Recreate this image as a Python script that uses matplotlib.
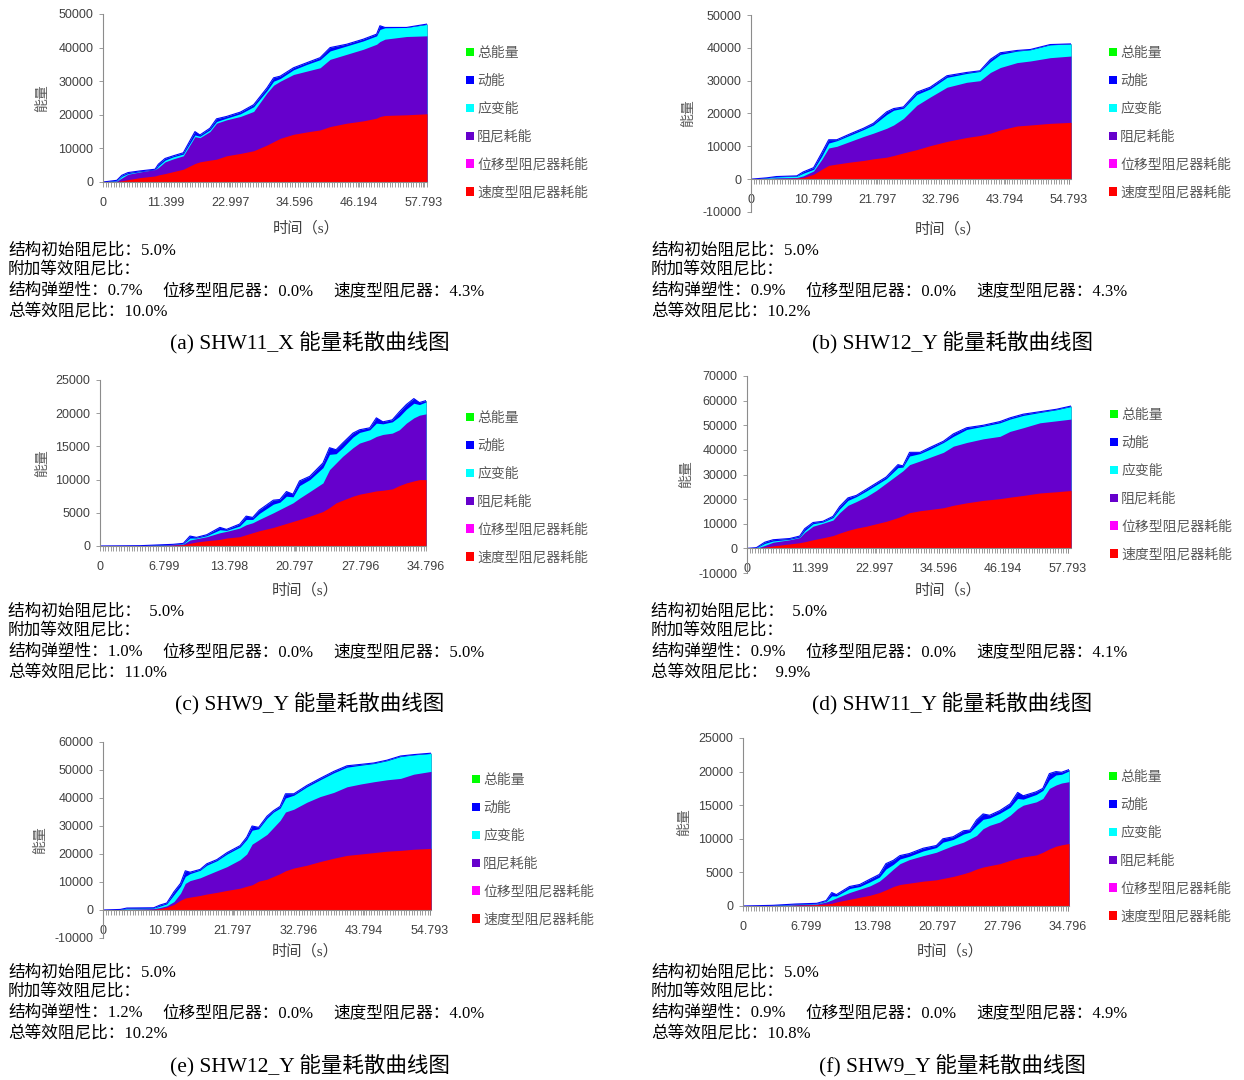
import matplotlib
matplotlib.use("Agg")
import matplotlib.pyplot as plt
from matplotlib.patches import Patch
from matplotlib.ticker import MultipleLocator

W, H = 1244, 1080
plt.rcParams['axes.unicode_minus'] = False

# ---------------- data ----------------
# (a) SHW11_X
t_a = [0, 2.5, 3.4, 4.5, 6.7, 9.4, 10.0, 11.2, 12.7, 14.5, 16.6, 17.5, 19.3, 20.5, 22.3, 24.8,
       27.2, 29.6, 30.8, 32.0, 34.4, 36.8, 39.2, 41.0, 44.0, 47.0, 49.4, 50.0, 50.9, 54.8, 58.5]
total_a = [0, 500, 2000, 2800, 3300, 3800, 5300, 7000, 7800, 8700, 15000, 14000, 16000, 18800, 19500, 20800,
           23000, 28000, 31000, 31500, 34000, 35500, 37000, 40000, 41000, 42500, 44000, 46500, 46000, 46000, 47000]
strain_a = [0, 400, 1700, 2500, 3100, 3600, 4800, 6500, 7500, 8300, 14000, 13600, 15500, 18000, 19000, 20300,
            22400, 27200, 30000, 30800, 33400, 35000, 36400, 39000, 40500, 42000, 43500, 45400, 45900, 46000, 46900]
damp_a = [0, 300, 1200, 2300, 3000, 3700, 4300, 6000, 6900, 7800, 13500, 13200, 15000, 17500, 18500, 19500,
          21000, 26500, 28800, 30000, 32000, 33000, 34000, 36500, 38000, 39500, 41000, 41800, 42500, 43300, 43500]
vel_a = [0, 100, 350, 700, 1300, 1800, 2100, 2500, 3100, 3800, 5500, 6000, 6500, 6800, 7800, 8500,
         9300, 11000, 12000, 13000, 14200, 14900, 15500, 16500, 17500, 18200, 19000, 19500, 19800, 20000, 20300]
ticks_a = [0, 11.399, 22.997, 34.596, 46.194, 57.793]

# (b) SHW12_Y
t_b = [0, 2.7, 4.4, 7.9, 9.0, 10.8, 12.2, 13.4, 14.8, 17.1, 19.4, 21.1, 23.4, 24.6, 26.3, 28.6,
       30.9, 33.8, 37.2, 39.5, 41.3, 43.0, 45.9, 48.2, 51.6, 55.2]
total_b = [0, 400, 800, 1000, 2200, 3500, 8000, 12000, 12000, 13800, 15500, 17000, 20500, 21500, 22000, 26500,
           28000, 31500, 32500, 33000, 36500, 38500, 39200, 39500, 41000, 41200]
strain_b = [0, 350, 700, 900, 1800, 3000, 7000, 11000, 11700, 13400, 15100, 16500, 19700, 21000, 21600, 25800,
            27500, 31000, 32200, 32800, 35800, 38000, 39000, 39400, 40900, 41200]
damp_b = [0, 200, 400, 500, 1000, 2500, 6000, 9500, 10000, 11500, 13000, 14000, 15500, 16500, 18500, 22500,
          25000, 28000, 29500, 30000, 32500, 34000, 35500, 36000, 37000, 37500]
vel_b = [0, 0, 100, 300, 500, 1500, 3000, 4200, 4600, 5200, 5700, 6200, 6700, 7200, 8000, 9000,
         10200, 11500, 12700, 13300, 14000, 15000, 16200, 16500, 17000, 17300]
ticks_b = [0, 10.799, 21.797, 32.796, 43.794, 54.793]

# (c) SHW9_Y
t_c = [0, 4.3, 7.8, 8.9, 9.6, 10.3, 11.4, 12.8, 13.5, 14.9, 15.6, 16.3, 17.0, 18.5, 19.2, 19.9, 20.6,
       21.3, 22.4, 23.8, 24.5, 25.2, 25.9, 27.0, 27.7, 28.8, 29.5, 30.2, 31.2, 31.95, 32.7, 33.5, 34.1, 34.8]
total_c = [0, 50, 250, 400, 1500, 1300, 1700, 2800, 2500, 3300, 4500, 4300, 5400, 6900, 7000, 8200, 7800,
           9800, 10500, 12500, 14800, 14500, 15500, 17000, 17500, 17800, 19300, 18700, 19000, 20200, 21300, 22200, 21600, 21900]
strain_c = [0, 40, 220, 350, 1200, 1200, 1550, 2450, 2350, 3000, 4000, 4000, 4900, 6300, 6600, 7500, 7400,
            9100, 10000, 11800, 13800, 13900, 14800, 16400, 17100, 17500, 18500, 18400, 18700, 19500, 20600, 21500, 21300, 21700]
damp_c = [0, 30, 200, 300, 900, 1100, 1400, 2000, 2200, 2700, 3200, 3500, 4000, 5000, 5500, 6000, 6500,
          7200, 8200, 9500, 11500, 12500, 13500, 14800, 15500, 16000, 16500, 16800, 17000, 17500, 18500, 19300, 19700, 19900]
vel_c = [0, 10, 100, 200, 400, 600, 800, 1000, 1200, 1400, 1700, 2000, 2300, 2800, 3100, 3400, 3700,
         4000, 4500, 5200, 5800, 6500, 6900, 7500, 7800, 8100, 8300, 8400, 8600, 9100, 9500, 9800, 10000, 10000]
ticks_c = [0, 6.799, 13.798, 20.797, 27.796, 34.796]

# (d) SHW11_Y
t_d = [0, 1.7, 3.2, 4.7, 7.7, 9.5, 10.4, 11.9, 13.7, 15.5, 16.7, 18.2, 19.7, 21.5, 23.3, 25.1,
       27.2, 28.1, 29.3, 31.2, 33.0, 35.4, 37.2, 39.6, 42.6, 45.6, 47.4, 49.8, 52.8, 55.8, 58.4]
total_d = [0, 300, 2500, 3500, 4000, 5000, 8000, 10500, 11000, 13000, 17000, 20500, 21500, 24000, 26500, 29000,
           34000, 33500, 39000, 39000, 41000, 43500, 46500, 49000, 50000, 51500, 53000, 54500, 55500, 56500, 57800]
strain_d = [0, 250, 2000, 3000, 3700, 4600, 7200, 10000, 10700, 12500, 16000, 19500, 21000, 23300, 25800, 28300,
            32800, 33000, 37500, 38500, 40300, 43000, 45500, 48300, 49600, 51000, 52500, 54000, 55200, 56300, 57600]
damp_d = [0, 100, 1200, 2500, 3500, 4400, 6500, 9000, 10200, 11500, 14500, 17500, 19000, 21000, 23500, 26500,
          30000, 31500, 34000, 35500, 37000, 39000, 41500, 43000, 44500, 45500, 47500, 49000, 51000, 51800, 52500]
vel_d = [0, 50, 500, 1000, 1800, 2300, 2700, 3500, 4300, 5200, 6200, 7300, 8200, 9000, 10000, 11000,
         12500, 13300, 14500, 15300, 15800, 16500, 17500, 18500, 19500, 20200, 20800, 21500, 22500, 23000, 23500]
ticks_d = [0, 11.399, 22.997, 34.596, 46.194, 57.793]

# (e) SHW12_Y
t_e = [0, 2.9, 4.0, 8.5, 9.6, 10.7, 11.9, 13.0, 13.8, 14.6, 16.3, 17.4, 19.1, 20.8, 23.0, 24.1, 25.0,
       26.1, 27.5, 28.6, 29.7, 30.6, 32.0, 34.2, 36.4, 38.7, 40.9, 43.2, 45.4, 47.6, 49.9, 52.1, 55.0]
total_e = [0, 200, 700, 800, 1800, 2500, 6500, 9500, 14000, 13500, 14500, 16500, 18000, 20500, 23000, 26000, 30000,
           29500, 33500, 35500, 37000, 41500, 41500, 44500, 47000, 49500, 51500, 52000, 52500, 53500, 55000, 55500, 56000]
strain_e = [0, 150, 500, 700, 1400, 2200, 5500, 8500, 12000, 13000, 14200, 16000, 17600, 20000, 22500, 25200, 28500,
            29000, 32800, 35000, 36400, 40000, 41000, 44000, 46500, 49000, 51000, 51700, 52300, 53300, 54800, 55400, 55900]
damp_e = [0, 100, 300, 500, 900, 1500, 3000, 6000, 9500, 10500, 11500, 12500, 14000, 15500, 18000, 20000, 23500,
          25000, 27000, 29500, 32000, 35000, 36000, 38500, 40500, 42000, 44000, 45000, 45800, 46500, 47000, 48500, 49500]
vel_e = [0, 50, 100, 200, 500, 1000, 2000, 3500, 4300, 4600, 5200, 5700, 6300, 7000, 7800, 8500, 9000,
         10300, 11000, 12000, 13000, 14000, 15000, 16000, 17300, 18500, 19500, 20000, 20500, 21000, 21300, 21700, 22000]
ticks_e = [0, 10.799, 21.797, 32.796, 43.794, 54.793]

# (f) SHW9_Y
t_f = [0, 3.2, 5.7, 7.9, 8.9, 9.5, 10.0, 11.4, 12.5, 13.6, 14.6, 15.3, 16.1, 16.8, 17.8, 19.3, 20.7,
       21.4, 22.5, 23.6, 24.3, 25.0, 25.7, 26.4, 27.5, 28.6, 29.4, 30.0, 31.4, 32.1, 32.8, 33.5, 34.1, 34.9]
total_f = [0, 100, 300, 400, 800, 2000, 1700, 2900, 3200, 4000, 4700, 6300, 6800, 7500, 7800, 8600, 9000,
           10000, 10300, 11200, 11300, 12800, 13700, 13500, 14200, 15200, 16900, 16400, 17000, 17500, 19700, 20000, 19900, 20300]
strain_f = [0, 80, 250, 350, 700, 1500, 1500, 2600, 2900, 3600, 4300, 5500, 6200, 7000, 7400, 8200, 8700,
            9500, 9900, 10700, 11000, 12000, 12900, 13100, 13800, 14700, 16000, 15900, 16600, 17200, 18800, 19500, 19600, 20100]
damp_f = [0, 50, 200, 300, 600, 900, 1200, 2000, 2500, 3000, 3700, 4500, 5500, 6300, 6900, 7500, 8000,
          8400, 9000, 9500, 10000, 10500, 11500, 12000, 12500, 13500, 14500, 15000, 15500, 16000, 17500, 18000, 18300, 18500]
vel_f = [0, 20, 100, 200, 300, 400, 600, 1000, 1300, 1600, 2000, 2400, 2900, 3200, 3400, 3700, 3900,
         4100, 4400, 4800, 5100, 5500, 5800, 6000, 6300, 6800, 7100, 7300, 7600, 8000, 8500, 8900, 9100, 9300]
ticks_f = [0, 6.799, 13.798, 20.797, 27.796, 34.796]

captions = ["(a) SHW11_X 能量耗散曲线图", "(b) SHW12_Y 能量耗散曲线图", "(c) SHW9_Y 能量耗散曲线图",
            "(d) SHW11_Y 能量耗散曲线图", "(e) SHW12_Y 能量耗散曲线图", "(f) SHW9_Y 能量耗散曲线图"]
init_ratio = ["5.0%", "5.0%", "  5.0%", "  5.0%", "5.0%", "5.0%"]
plastic_ratio = ["0.7%", "0.9%", "1.0%", "0.9%", "1.2%", "0.9%"]
disp_ratio = ["0.0%", "0.0%", "0.0%", "0.0%", "0.0%", "0.0%"]
vel_ratio = ["4.3%", "4.3%", "5.0%", "4.1%", "4.0%", "4.9%"]
total_ratio = ["10.0%", "10.2%", "11.0%", "  9.9%", "10.2%", "10.8%"]

legend_names = ["总能量", "动能", "应变能", "阻尼耗能", "位移型阻尼器耗能", "速度型阻尼器耗能"]
legend_colors = ["#00ff00", "#0000ff", "#00ffff", "#6600cc", "#ff00ff", "#ff0000"]

# ---------------- layout (pixels) ----------------
# left, top, right, bottom of plot area; y limits; y step
boxes = [(103, 14, 427, 182), (751, 15, 1071, 212),
         (100, 380, 426, 546), (747, 376, 1071, 573),
         (103, 742, 431, 938), (743, 738, 1069, 906)]
ylims = [(0, 50000), (-10000, 50000), (0, 25000), (-10000, 70000), (-10000, 60000), (0, 25000)]
ysteps = [10000, 10000, 5000, 10000, 10000, 5000]
legend_pos = [(466, 46), (1109, 46), (466, 411), (1110, 408), (472, 773), (1109, 770)]
ylabel_x = [42, 688, 42, 686, 40, 684]
xlabel_pos = [(306, 228), (948, 229), (305, 590), (948, 590), (305, 951), (950, 951)]
text_x = [8, 651, 8, 651, 8, 651]
text_y = [250, 250, 611, 611, 972, 972]
caption_pos = [(310, 342), (952, 342), (310, 703), (952, 703), (310, 1065), (952, 1065)]

panels = [(t_a, total_a, strain_a, damp_a, vel_a, ticks_a),
          (t_b, total_b, strain_b, damp_b, vel_b, ticks_b),
          (t_c, total_c, strain_c, damp_c, vel_c, ticks_c),
          (t_d, total_d, strain_d, damp_d, vel_d, ticks_d),
          (t_e, total_e, strain_e, damp_e, vel_e, ticks_e),
          (t_f, total_f, strain_f, damp_f, vel_f, ticks_f)]

serif_cjk = ['Liberation Serif', 'Noto Sans CJK SC']
sans_cjk = ['Noto Sans CJK SC', 'DejaVu Sans']
axis_grey = '#8c8c8c'
label_grey = '#404040'

fig = plt.figure(figsize=(W / 100, H / 100), dpi=100)


def fx(x):
    return x / W


def fy(y):
    return 1 - y / H


for i, (t, total, strain, damp, vel, ticks) in enumerate(panels):
    l, tp, r, b = boxes[i]
    ax = fig.add_axes([fx(l), fy(b), (r - l) / W, (b - tp) / H])

    # overlapping area series, drawn back to front
    ax.fill_between(t, 0, total, color=legend_colors[0], lw=0)
    ax.fill_between(t, 0, total, color=legend_colors[1], lw=0)
    ax.fill_between(t, 0, strain, color=legend_colors[2], lw=0)
    ax.fill_between(t, 0, damp, color=legend_colors[3], lw=0)
    ax.fill_between(t, 0, vel, color=legend_colors[5], lw=0)
    ax.plot(t, total, color=legend_colors[1], lw=0.8)

    ax.set_xlim(0, t[-1])
    ax.set_ylim(*ylims[i])
    for s in ['top', 'right']:
        ax.spines[s].set_visible(False)
    ax.spines['bottom'].set_position(('data', 0))
    for s in ['left', 'bottom']:
        ax.spines[s].set_color(axis_grey)
        ax.spines[s].set_linewidth(0.8)
        ax.spines[s].set_zorder(5)

    ax.set_xticks(ticks, ['0' if v == 0 else '%.3f' % v for v in ticks])
    ax.xaxis.set_minor_locator(MultipleLocator(ticks[1] / 24))
    ax.yaxis.set_major_locator(MultipleLocator(ysteps[i]))
    ax.tick_params(axis='x', which='both', direction='out', length=3.5, width=0.6,
                   color=axis_grey, pad=7)
    ax.tick_params(axis='y', which='major', direction='out', length=3, width=0.6,
                   color=axis_grey, pad=4)
    for lab in ax.get_xticklabels() + ax.get_yticklabels():
        lab.set_fontfamily('Liberation Sans')
        lab.set_fontsize(9)
        lab.set_color(label_grey)

    # legend to the right of the plot
    handles = [Patch(facecolor=c, edgecolor='none') for c in legend_colors]
    lx, ly = legend_pos[i]
    ax.legend(handles, legend_names, loc='upper left', bbox_to_anchor=(fx(lx), fy(ly)),
              bbox_transform=fig.transFigure, frameon=False, borderpad=0, borderaxespad=0,
              handlelength=0.55, handleheight=0.55, handletextpad=0.25, labelspacing=1.0,
              prop={'family': sans_cjk, 'size': 10}, labelcolor='#595959')

    # axis titles
    fig.text(fx(ylabel_x[i]), fy((tp + b) / 2), "能量", rotation=90, ha='center', va='center',
             family=sans_cjk, fontsize=10, color='#595959')
    xl, yl = xlabel_pos[i]
    fig.text(fx(xl), fy(yl), "时间（s）", ha='center', va='center',
             family=serif_cjk, fontsize=11, color=label_grey)

    # damping ratio notes
    x0 = text_x[i]
    y0 = text_y[i]
    note = dict(ha='left', va='center', family=serif_cjk, fontsize=12, color='black')
    fig.text(fx(x0), fy(y0), "结构初始阻尼比：" + init_ratio[i], **note)
    fig.text(fx(x0), fy(y0 + 20.7), "附加等效阻尼比：", **note)
    fig.text(fx(x0), fy(y0 + 41.4), "结构弹塑性：" + plastic_ratio[i], **note)
    fig.text(fx(x0 + 154), fy(y0 + 41.4), "位移型阻尼器：" + disp_ratio[i], **note)
    fig.text(fx(x0 + 325), fy(y0 + 41.4), "速度型阻尼器：" + vel_ratio[i], **note)
    fig.text(fx(x0), fy(y0 + 62.1), "总等效阻尼比：" + total_ratio[i], **note)

    cx, cy = caption_pos[i]
    fig.text(fx(cx), fy(cy), captions[i], ha='center', va='center',
             family=serif_cjk, fontsize=15.5, color='black')

fig.savefig('out.png', dpi=100)
